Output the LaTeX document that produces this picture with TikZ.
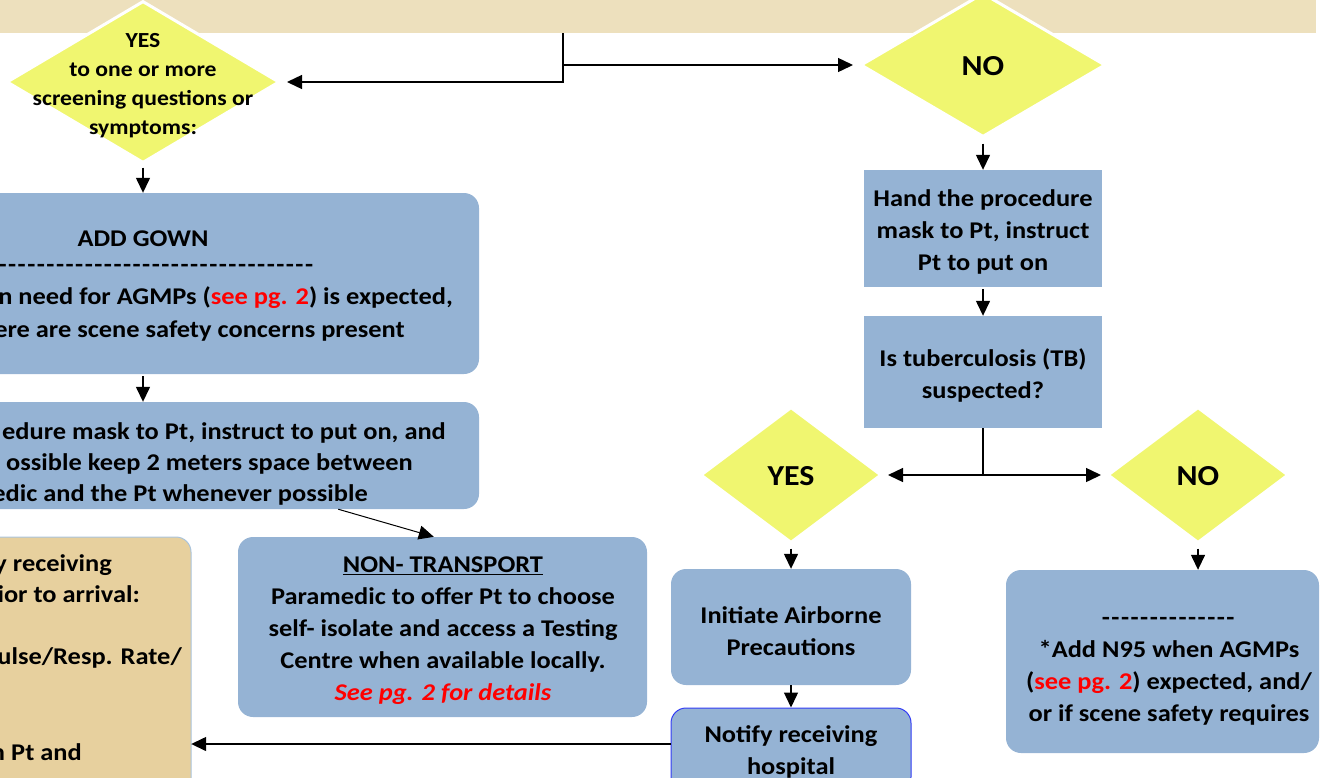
\documentclass[tikz,border=0pt]{standalone}
\usepackage{fontspec}
\setmainfont{Carlito}[Ligatures=TeXOff,FakeStretch=1.1]
\usetikzlibrary{shapes.geometric,arrows.meta}
\definecolor{band}{RGB}{237,224,189}
\definecolor{yel}{RGB}{240,246,112}
\definecolor{boxblue}{RGB}{149,179,212}
\definecolor{tanbox}{RGB}{231,208,158}
\definecolor{tanedge}{RGB}{170,196,220}
\definecolor{notedge}{RGB}{50,60,245}
\definecolor{redtxt}{RGB}{255,0,0}
\newcommand\dd[1]{\foreach\i in {1,...,#1}{-\kern1.5pt}}
\begin{document}
\begin{tikzpicture}[x=1pt,y=-1pt,
  txt/.style={font=\bfseries\fontsize{24}{32}\selectfont,inner sep=0pt,align=center},
  dtxt/.style={font=\bfseries\fontsize{21.5}{29}\selectfont,inner sep=0pt,align=center},
  big/.style={font=\bfseries\fontsize{29}{36}\selectfont,inner sep=0pt},
  rbox/.style={fill=boxblue,rounded corners=15pt,draw=none},
  sbox/.style={fill=boxblue,draw=none},
  dia/.style={diamond,fill=yel,draw=white,line width=3pt,inner sep=0pt,aspect=1},
  arr/.style={draw=black,line width=1.4pt,-{Triangle[length=15pt,width=14pt]}}]
\useasboundingbox (0,0) rectangle (1332,777);
\clip (0,0) rectangle (1332,777);
% top band
\fill[band] (0,-10) rectangle (1316,33);
\coordinate (c0) at (563,33);
% diamonds
\node[dia,minimum width=273pt,minimum height=162pt] (yes1) at (143,82) {};
\node[dtxt] (yes1t) at (143,86) {YES\\to one or more\\screening questions or\\symptoms:};
\node[dia,minimum width=245pt,minimum height=144pt] (no1) at (983,65) {};
\node[big] (no1t) at (983,66) {NO};
\node[dia,minimum width=181pt,minimum height=136pt] (yes2) at (791,475) {};
\node[big] (yes2t) at (791,476) {YES};
\node[dia,minimum width=181pt,minimum height=136pt] (no2) at (1198,475) {};
\node[big] (no2t) at (1198,476) {NO};
% left boxes
\path[rbox] (-30,193) rectangle (479,374);
\node[inner sep=0pt,minimum width=509pt,minimum height=181pt] (box1) at (224.5,283.5) {};
\node[txt] (b1a) at (143,239) {ADD GOWN};
\node[txt,anchor=mid east] (b1b) at (315,270) {\dd{36}};
\node[txt,anchor=mid east] (b1c) at (453,302) {n need for AGMPs (\textcolor{redtxt}{see pg. 2}) is expected,};
\node[txt,anchor=mid east] (b1d) at (405,335) {ere are scene safety concerns present};
\path[rbox] (-30,402) rectangle (479,509);
\node[inner sep=0pt,minimum width=509pt,minimum height=107pt] (box2) at (224.5,455.5) {};
\node[txt,anchor=mid east] (b2a) at (446,437) {edure mask to Pt, instruct to put on, and};
\node[txt,anchor=mid east] (b2b) at (413,468) {ossible keep 2 meters space between};
\node[txt,anchor=mid east] (b2c) at (368,499) {edic and the Pt whenever possible};
% tan box
\path[fill=tanbox,draw=tanedge,line width=1pt,rounded corners=15pt] (-30,537) rectangle (191,820);
\node[inner sep=0pt,minimum width=221pt,minimum height=283pt] (tan) at (80.5,678.5) {};
\node[txt,anchor=mid east] (t1) at (112,569) {y receiving};
\node[txt,anchor=mid east] (t2) at (140,600) {ior to arrival:};
\node[txt,anchor=mid east] (t3) at (182,662) {ulse/Resp. Rate/};
\node[txt,anchor=mid east] (t4) at (82,758) {n Pt and};
% non-transport
\node[rbox,minimum width=409pt,minimum height=180pt] (nontr) at (442.5,627) {};
\node[txt] (nontrt) at (443,631) {\underline{NON- TRANSPORT}\\Paramedic to offer Pt to choose\\self- isolate and access a Testing\\Centre when available locally.\\\textcolor{redtxt}{\itshape See pg. 2 for details}};
% right column
\node[sbox,minimum width=238pt,minimum height=117pt] (hand) at (983,228.5) {};
\node[txt] (handt) at (983,232) {Hand the procedure\\mask to Pt, instruct\\Pt to put on};
\node[sbox,minimum width=238pt,minimum height=112pt] (tb) at (983,372) {};
\node[txt] (tbt) at (983,375) {Is tuberculosis (TB)\\suspected?};
\node[rbox,minimum width=240pt,minimum height=116pt] (init) at (791,627) {};
\node[txt] (initt) at (791,631) {Initiate Airborne\\Precautions};
\node[rbox,draw=notedge,line width=1pt,minimum width=240pt,minimum height=84pt] (notify) at (791,750) {};
\node[txt] (notifyt) at (791,752) {Notify receiving\\hospital};
\node[rbox,minimum width=313pt,minimum height=183pt] (nobox) at (1162.5,661.5) {};
\node[txt] (noboxt) at (1169,671) {\dd{14}\\*Add N95 when AGMPs\\(\textcolor{redtxt}{see pg. 2}) expected, and/\\or if scene safety requires};
% connectors
\draw[arr,shorten >=6pt] (c0) |- (yes1.east);
\draw[arr,shorten >=6pt] (c0 |- no1.west) -- (no1.west);
\draw[arr,shorten <=3pt] (yes1.south) -- (yes1.south |- box1.north);
\draw[arr,shorten <=2pt] (box1.south -| yes1.south) -- (box2.north -| yes1.south);
\draw[draw=black,line width=1pt,-{Triangle[length=15pt,width=14pt]}] ([xshift=-141pt]box2.south east) -- ([xshift=196pt]nontr.north west);
\draw[arr,shorten <=5pt] (no1.south) -- (hand.north);
\draw[arr,shorten <=2pt] (hand.south) -- (tb.north);
\draw[arr,shorten >=5pt] (tb.south) |- (yes2.east);
\draw[arr,shorten >=5pt] (tb.south) |- (no2.west);
\draw[arr,shorten <=4pt] (yes2.south) -- (init.north);
\draw[arr] (init.south) -- (notify.north);
\draw[arr,shorten <=4pt] (no2.south) -- (no2.south |- nobox.north);
\path ([yshift=6pt]notify.west) coordinate (nw);
\draw[arr] (nw) -- (nw -| tan.east);
\end{tikzpicture}
\end{document}
